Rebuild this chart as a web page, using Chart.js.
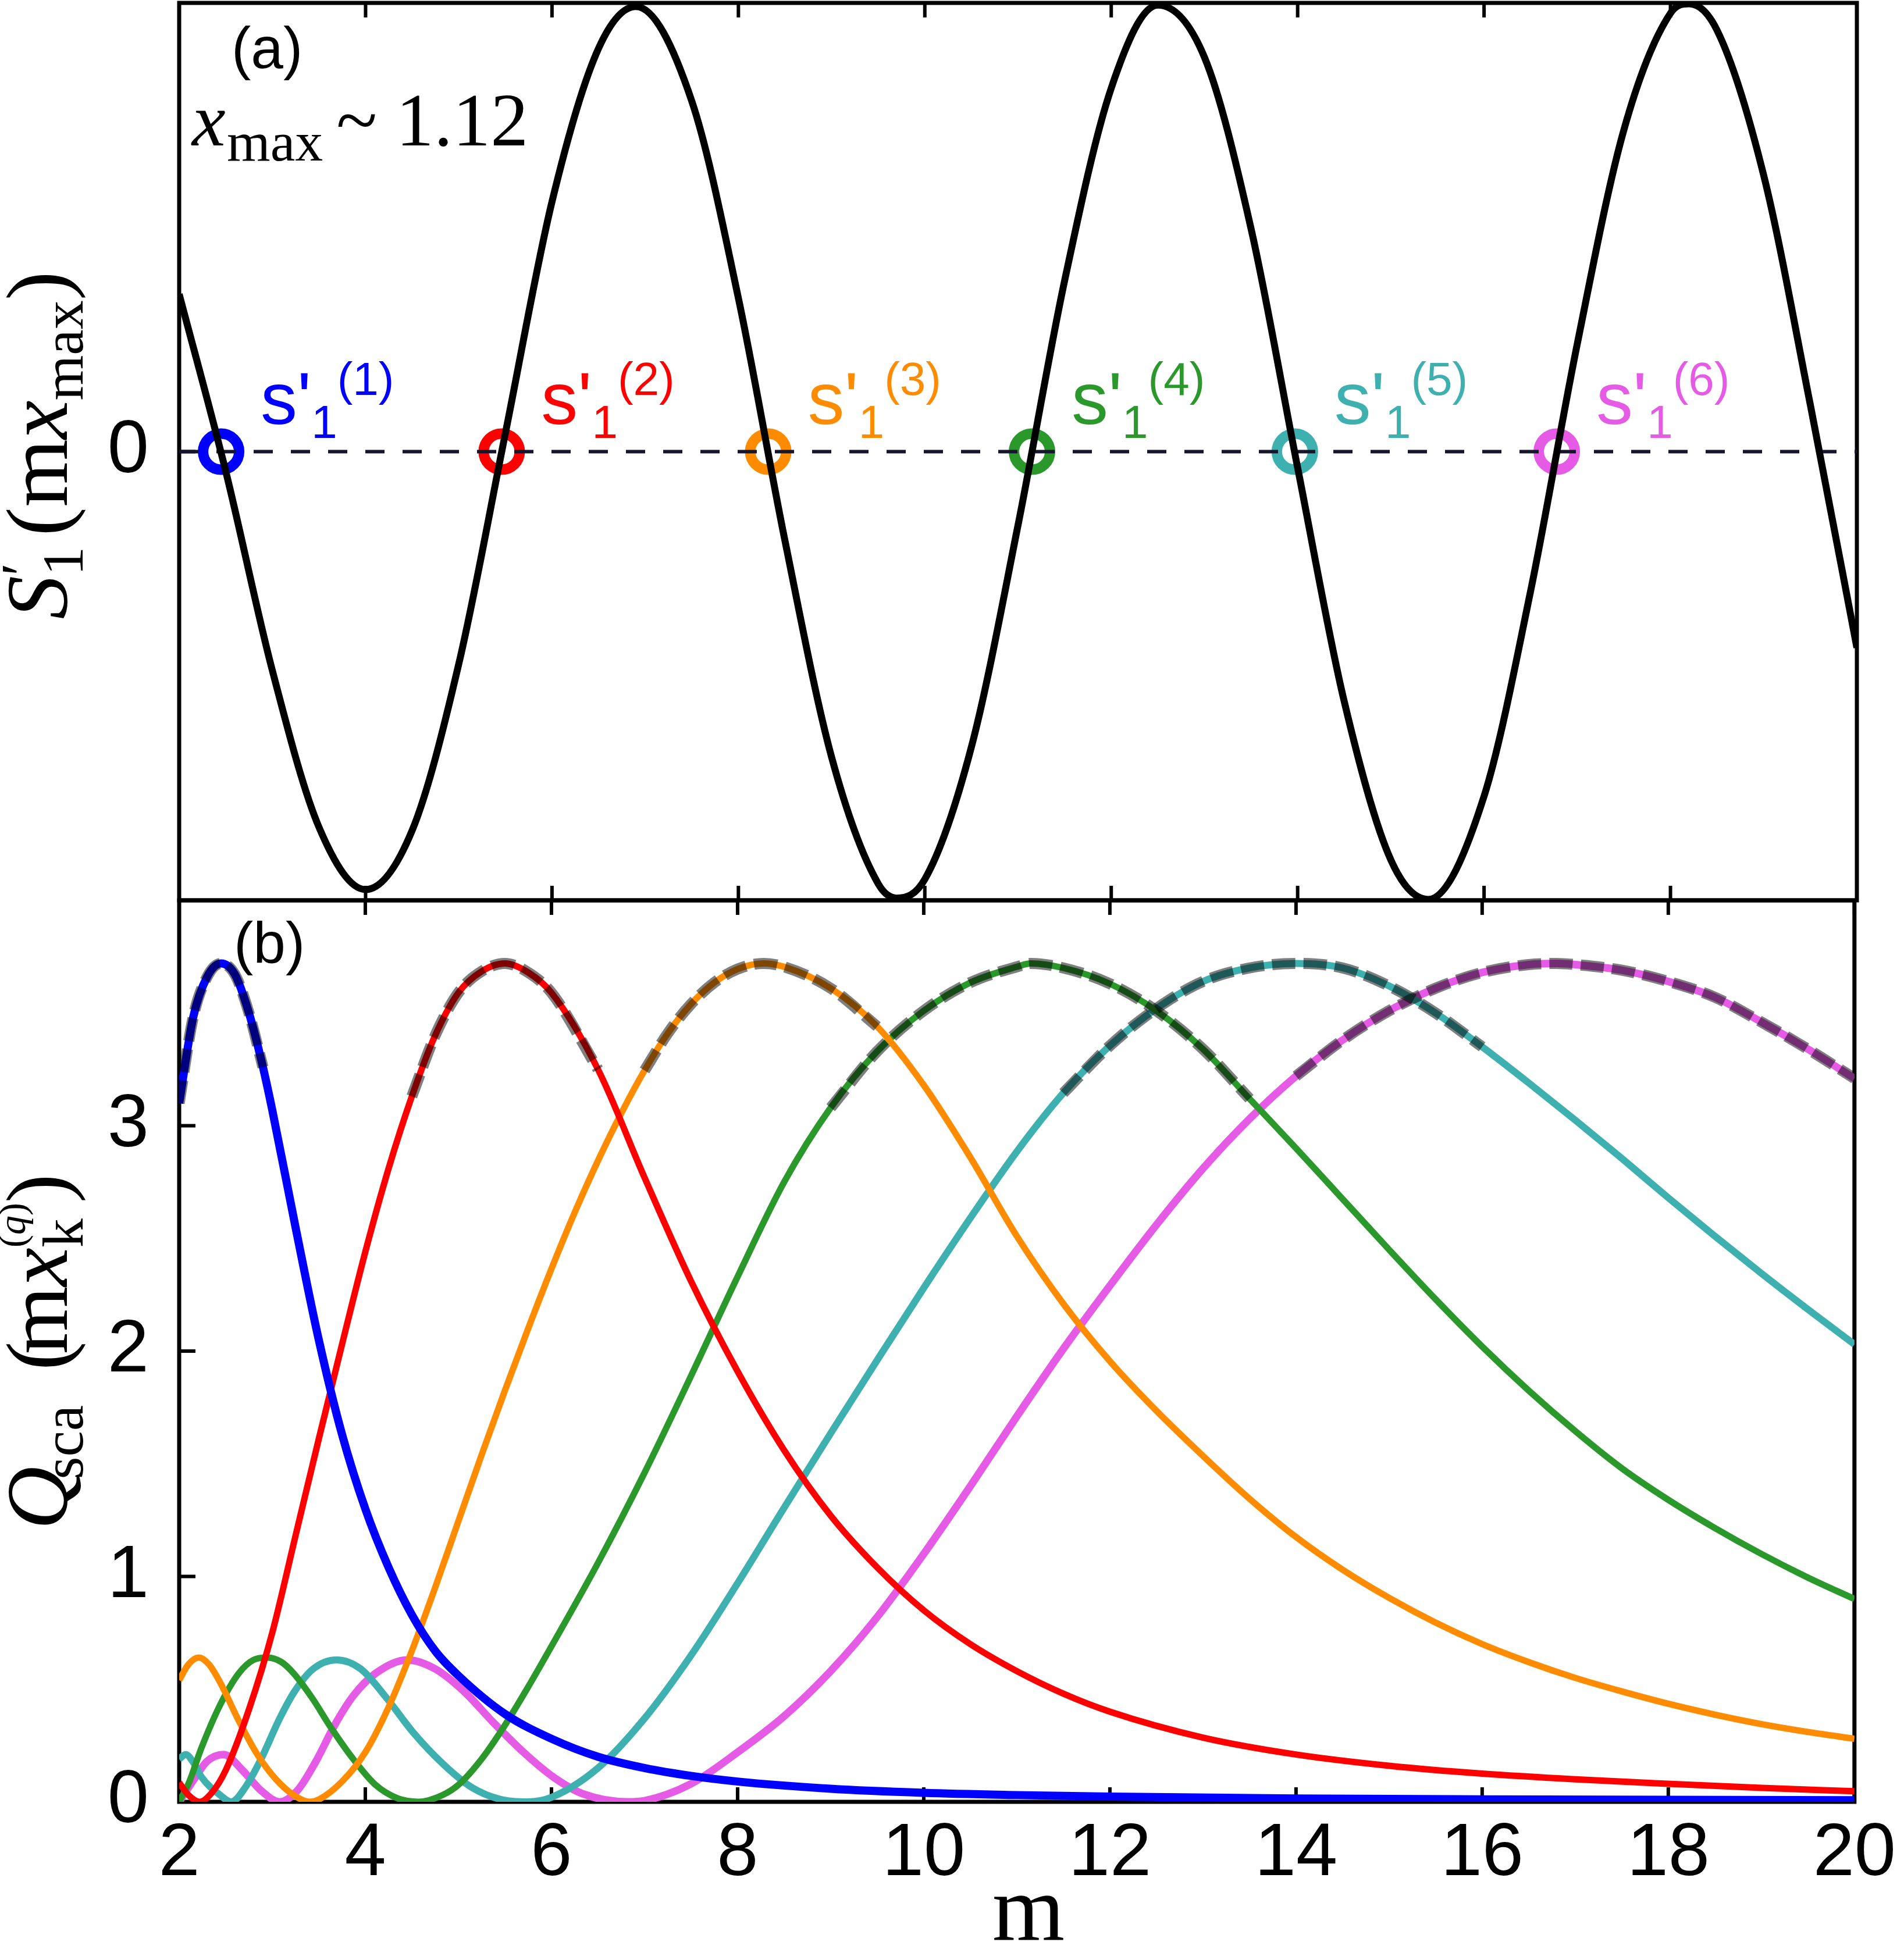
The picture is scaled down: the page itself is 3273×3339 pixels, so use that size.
<!DOCTYPE html>
<html>
<head>
<meta charset="utf-8">
<script src="https://cdn.jsdelivr.net/npm/chart.js@4.4.1/dist/chart.umd.min.js"></script>
<style>
  html, body { margin: 0; padding: 0; background: #fff; }
  #wrap { position: relative; width: 3273px; height: 3339px; }
  #wrap canvas { position: absolute; left: 0; top: 0; }
</style>
</head>
<body>
<div id="wrap">
  <canvas id="panelA" width="3273" height="3339"></canvas>
  <canvas id="panelB" width="3273" height="3339"></canvas>
</div>
<script>
// ---- panel (a): S'_1(m x_max) ----
const mA = [2.0, 2.5, 3.0, 3.5, 4.0, 4.5, 5.0, 5.5, 6.0, 6.5, 6.9, 7.5, 8.0, 8.5, 9.0, 9.5, 9.7, 10.0, 10.5, 11.0,
            11.5, 12.0, 12.5, 13.0, 13.5, 14.0, 14.5, 15.0, 15.4, 16.0, 16.5, 17.0, 17.5, 18.0, 18.2, 18.5, 19.0, 19.5, 20.0];
const s1A = [0.351, -0.044, -0.488, -0.837, -0.976, -0.844, -0.473, 0.041, 0.557, 0.899, 0.992, 0.781, 0.342, -0.199, -0.681, -0.963, -0.995, -0.953, -0.658, -0.164,
             0.381, 0.810, 0.995, 0.879, 0.497, -0.036, -0.557, -0.910, -0.998, -0.768, -0.310, 0.240, 0.717, 0.977, 0.998, 0.939, 0.616, 0.105, -0.437];
const zeroM = [2.45, 5.46, 8.32, 11.15, 13.97, 16.78];
const qNames = ['1', '2', '3', '4', '5', '6'];
const qColors = ['#0000ff', '#ff0000', '#ff8c00', '#2b982b', '#3fb0b0', '#e65be6'];

// ---- panel (b): Q_sca(m x_k^(q)) ----
const m1 = [2.0, 2.15, 2.3, 2.45, 2.6, 2.75, 2.9, 3.0, 3.25, 3.5, 3.75, 4.0, 4.25, 4.5, 4.75, 5.0, 5.5, 6.0, 6.5, 7.0,
            7.5, 8.0, 9.0, 10.0, 11.0, 12.0, 14.0, 16.0, 18.0, 20.0];
const q1 = [3.10, 3.48, 3.66, 3.72, 3.67, 3.50, 3.26, 3.07, 2.55, 2.05, 1.63, 1.30, 1.04, 0.83, 0.67, 0.56, 0.39, 0.28, 0.20, 0.15,
            0.115, 0.09, 0.058, 0.04, 0.03, 0.023, 0.015, 0.011, 0.009, 0.007];

const m2 = [2.0, 2.1, 2.22, 2.35, 2.5, 2.75, 3.0, 3.25, 3.5, 3.75, 4.0, 4.25, 4.5, 4.75, 5.0, 5.25, 5.5, 5.75, 6.0, 6.5,
            7.0, 7.5, 8.0, 8.5, 9.0, 9.5, 10.0, 10.5, 11.0, 11.5, 12.0, 13.0, 14.0, 15.0, 16.0, 17.0, 18.0, 19.0, 20.0];
const q2 = [0.085, 0.03, 0.0, 0.04, 0.14, 0.41, 0.75, 1.18, 1.61, 2.03, 2.44, 2.81, 3.13, 3.40, 3.59, 3.685, 3.72, 3.68, 3.59, 3.25,
            2.77, 2.31, 1.91, 1.56, 1.27, 1.04, 0.85, 0.70, 0.58, 0.48, 0.40, 0.285, 0.21, 0.16, 0.125, 0.10, 0.08, 0.062, 0.047];

const m3 = [2.0, 2.1, 2.21, 2.32, 2.44, 2.64, 2.84, 3.04, 3.23, 3.4, 3.5, 3.75, 4.0, 4.25, 4.5, 4.75, 5.0, 5.25, 5.5, 5.75,
            6.0, 6.25, 6.5, 6.75, 7.0, 7.25, 7.5, 7.75, 8.0, 8.28, 8.5, 9.0, 9.5, 10.0, 10.5, 11.0, 11.5, 12.0, 12.5, 13.0,
            13.5, 14.0, 14.5, 15.0, 15.5, 16.0, 16.5, 17.0, 17.5, 18.0, 18.5, 19.0, 19.5, 20.0];
const q3 = [0.54, 0.61, 0.64, 0.61, 0.53, 0.36, 0.21, 0.10, 0.03, 0.0, 0.01, 0.09, 0.22, 0.42, 0.67, 0.95, 1.245, 1.54, 1.825, 2.10,
            2.365, 2.615, 2.845, 3.055, 3.245, 3.41, 3.54, 3.635, 3.695, 3.72, 3.705, 3.61, 3.44, 3.18, 2.86, 2.51, 2.21, 1.955, 1.735, 1.535,
            1.345, 1.175, 1.03, 0.905, 0.795, 0.70, 0.62, 0.55, 0.49, 0.435, 0.387, 0.345, 0.31, 0.28];

const m4 = [2.0, 2.1, 2.24, 2.44, 2.64, 2.8, 2.95, 3.1, 3.23, 3.43, 3.63, 3.87, 4.11, 4.35, 4.57, 4.83, 5.0, 5.25, 5.5, 5.75,
            6.0, 6.5, 7.0, 7.5, 8.0, 8.5, 9.0, 9.5, 10.0, 10.5, 11.0, 11.15, 11.5, 12.0, 12.5, 13.0, 13.5, 14.0, 14.5, 15.0,
            15.5, 16.0, 16.5, 17.0, 17.5, 18.0, 18.5, 19.0, 19.5, 20.0];
const q4 = [0.0, 0.08, 0.24, 0.43, 0.57, 0.63, 0.64, 0.62, 0.57, 0.46, 0.33, 0.19, 0.075, 0.015, 0.0, 0.03, 0.075, 0.19, 0.34, 0.51,
            0.69, 1.06, 1.46, 1.89, 2.33, 2.75, 3.08, 3.33, 3.51, 3.635, 3.705, 3.72, 3.70, 3.63, 3.51, 3.34, 3.12, 2.90, 2.675, 2.45,
            2.23, 2.02, 1.825, 1.645, 1.48, 1.34, 1.215, 1.10, 0.995, 0.90];

const m5 = [2.0, 2.07, 2.16, 2.24, 2.44, 2.56, 2.72, 2.88, 3.08, 3.24, 3.44, 3.69, 3.95, 4.23, 4.51, 4.83, 5.14, 5.46, 5.74, 6.0,
            6.5, 7.0, 7.5, 8.0, 8.5, 9.0, 9.5, 10.0, 10.5, 11.0, 11.5, 12.0, 12.5, 13.0, 13.5, 14.0, 14.5, 15.0, 15.5, 16.0,
            16.5, 17.0, 17.5, 18.0, 18.5, 19.0, 19.5, 20.0];
const q5 = [0.19, 0.21, 0.17, 0.11, 0.03, 0.0, 0.07, 0.19, 0.37, 0.49, 0.59, 0.63, 0.59, 0.46, 0.31, 0.17, 0.065, 0.01, 0.0, 0.02,
            0.15, 0.37, 0.65, 0.97, 1.305, 1.635, 1.96, 2.28, 2.59, 2.885, 3.145, 3.355, 3.52, 3.64, 3.70, 3.72, 3.70, 3.62, 3.50, 3.35,
            3.19, 3.025, 2.855, 2.68, 2.51, 2.345, 2.185, 2.03];

const m6 = [2.0, 2.16, 2.3, 2.48, 2.68, 2.88, 3.08, 3.27, 3.47, 3.67, 3.87, 4.11, 4.45, 4.75, 5.06, 5.38, 5.7, 6.02, 6.34, 6.82,
            7.0, 7.5, 8.0, 8.5, 9.0, 9.5, 10.0, 10.5, 11.0, 11.5, 12.0, 12.5, 13.0, 13.5, 14.0, 14.5, 15.0, 15.5, 16.0, 16.5,
            16.8, 17.0, 17.5, 18.0, 18.5, 19.0, 19.5, 20.0];
const q6 = [0.0, 0.10, 0.18, 0.21, 0.14, 0.05, 0.0, 0.05, 0.18, 0.34, 0.47, 0.57, 0.63, 0.59, 0.49, 0.35, 0.22, 0.11, 0.035, 0.0,
            0.005, 0.08, 0.22, 0.38, 0.58, 0.82, 1.10, 1.40, 1.71, 2.01, 2.29, 2.56, 2.81, 3.03, 3.22, 3.38, 3.51, 3.61, 3.68, 3.715,
            3.72, 3.715, 3.69, 3.64, 3.57, 3.46, 3.34, 3.21];

// m-range where the dashed grey approximation is drawn over each curve
const dashWin = [[2.0, 2.95], [4.5, 6.6], [7.0, 9.6], [9.0, 13.5], [11.5, 16.4], [14.0, 20.0]];

const xTicks = [2, 4, 6, 8, 10, 12, 14, 16, 18, 20];
const yTicksA = [0];
const yTicksB = [0, 1, 2, 3];

const mSets = [m1, m2, m3, m4, m5, m6];
const qSets = [q1, q2, q3, q4, q5, q6];
const qWidths = [14, 11, 11, 11, 12, 13];

const pts = (xs, ys) => xs.map((x, i) => ({ x: x, y: ys[i] }));

const SERIF = '"Liberation Serif", "Times New Roman", serif';
const SANS = '"Liberation Sans", Arial, sans-serif';
Chart.defaults.font.family = SANS;
Chart.defaults.color = '#000';

// frame + inward ticks
const frame = {
  id: 'frame',
  beforeDatasetsDraw(chart, args, opts) {
    const { ctx, chartArea: a, scales } = chart;
    ctx.save();
    ctx.strokeStyle = '#000';
    ctx.lineWidth = 7;
    ctx.strokeRect(a.left, a.top, a.right - a.left, a.bottom - a.top);
    ctx.lineWidth = 6;
    ctx.beginPath();
    xTicks.forEach(v => {
      const px = scales.x.getPixelForValue(v);
      ctx.moveTo(px, a.top); ctx.lineTo(px, a.top + 25);
      ctx.moveTo(px, a.bottom); ctx.lineTo(px, a.bottom - 25);
    });
    (opts.yTicks || []).forEach(v => {
      const py = scales.y.getPixelForValue(v);
      ctx.moveTo(a.left, py); ctx.lineTo(a.left + 28, py);
    });
    ctx.stroke();
    ctx.restore();
  }
};

// draw a run of text pieces, centred on (cx, cy), optionally rotated
function drawRuns(ctx, runs, cx, cy, rotate) {
  let total = 0;
  runs.forEach(r => {
    ctx.font = r.font;
    r.w = r.adv === 0 ? 0 : ctx.measureText(r.t).width;
    total += r.w + (r.gap || 0);
  });
  ctx.save();
  ctx.translate(cx, cy);
  if (rotate) ctx.rotate(-Math.PI / 2);
  ctx.textAlign = 'left';
  ctx.textBaseline = 'alphabetic';
  let x = -total / 2;
  runs.forEach(r => {
    ctx.font = r.font;
    ctx.fillText(r.t, x + (r.dx || 0), r.dy || 0);
    x += r.w + (r.gap || 0);
  });
  ctx.restore();
}

const textA = {
  id: 'textA',
  afterDraw(chart) {
    const { ctx, chartArea: a, scales: { x, y } } = chart;
    ctx.save();
    ctx.fillStyle = '#000';
    ctx.textAlign = 'left';
    ctx.textBaseline = 'alphabetic';
    ctx.font = '100px ' + SANS;
    ctx.fillText('(a)', a.left + 90, a.top + 112);
    ctx.font = 'italic 130px ' + SERIF;
    ctx.fillText('x', a.left + 22, a.top + 245);
    ctx.font = '96px ' + SERIF;
    ctx.fillText('max', a.left + 82, a.top + 271);
    ctx.font = '130px ' + SERIF;
    ctx.fillText('~ 1.12', a.left + 270, a.top + 245);

    // s'_1^(q) labels next to the zero markers
    zeroM.forEach((m, i) => {
      const cx = x.getPixelForValue(m), cy = y.getPixelForValue(0);
      ctx.fillStyle = qColors[i];
      let tx = cx + 68;
      ctx.font = '126px ' + SANS;
      ctx.fillText("s'", tx, cy - 48);
      tx += ctx.measureText("s'").width;
      ctx.font = '80px ' + SANS;
      ctx.fillText('1', tx, cy - 24);
      tx += ctx.measureText('1').width;
      ctx.fillText('(' + qNames[i] + ')', tx, cy - 98);
    });

    ctx.fillStyle = '#000';
    drawRuns(ctx, [
      { t: 'S', font: 'italic 150px ' + SERIF },
      { t: '\u2032', font: '100px ' + SERIF, dy: -45, adv: 0 },
      { t: '1', font: '100px ' + SERIF, dy: 27, gap: 18 },
      { t: '(', font: '150px ' + SERIF },
      { t: 'm', font: '150px ' + SERIF },
      { t: 'x', font: 'italic 150px ' + SERIF },
      { t: 'max', font: '100px ' + SERIF, dy: 27 },
      { t: ')', font: '150px ' + SERIF }
    ], a.left - 193, (a.top + a.bottom) / 2 - 11, true);
    ctx.restore();
  }
};

const textB = {
  id: 'textB',
  afterDraw(chart) {
    const { ctx, chartArea: a } = chart;
    ctx.save();
    ctx.fillStyle = '#000';
    ctx.textAlign = 'left';
    ctx.textBaseline = 'alphabetic';
    ctx.font = '100px ' + SANS;
    ctx.fillText('(b)', a.left + 94, a.top + 108);

    drawRuns(ctx, [
      { t: 'Q', font: 'italic 150px ' + SERIF },
      { t: 'sca', font: '100px ' + SERIF, dy: 27, dx: -22, gap: 0 },
      { t: ' (', font: '150px ' + SERIF, gap: -22 },
      { t: 'm', font: '150px ' + SERIF },
      { t: 'x', font: 'italic 150px ' + SERIF },
      { t: 'k', font: '100px ' + SERIF, dy: 27, adv: 0 },
      { t: '(', font: '66px ' + SERIF, dy: -72 },
      { t: 'q', font: 'italic 66px ' + SERIF, dy: -72 },
      { t: ')', font: '66px ' + SERIF, dy: -72 },
      { t: ')', font: '150px ' + SERIF }
    ], a.left - 193, (a.top + a.bottom) / 2 + 1, true);

    ctx.textAlign = 'center';
    ctx.font = '160px ' + SERIF;
    ctx.fillText('m', 1768, 3335);
    ctx.restore();
  }
};

const tickFont = { family: SANS, size: 128 };

// ---- chart (a) ----
new Chart(document.getElementById('panelA'), {
  type: 'line',
  data: {
    datasets: [
      { data: pts(mA, s1A), borderColor: '#000', borderWidth: 12, pointRadius: 0,
        cubicInterpolationMode: 'monotone', order: 0 },
      { data: [{ x: 2, y: 0 }, { x: 20, y: 0 }], borderColor: '#15152b', borderWidth: 6,
        borderDash: [33, 31], pointRadius: 0, order: 1 },
      { data: zeroM.map(m => ({ x: m, y: 0 })), showLine: false, pointRadius: 31, borderWidth: 18,
        pointBorderWidth: 18, pointBorderColor: qColors, pointBackgroundColor: 'rgba(0,0,0,0)', order: 2 }
    ]
  },
  options: {
    responsive: false, animation: false, devicePixelRatio: 1,
    layout: { autoPadding: false, padding: { top: 5, right: 81, bottom: 3339 - 1548, left: 0 } },
    plugins: { legend: { display: false }, tooltip: { enabled: false }, frame: { yTicks: yTicksA } },
    scales: {
      x: { type: 'linear', min: 2, max: 20, display: false },
      y: {
        type: 'linear', min: -1, max: 1,
        afterFit(s) { s.width = 308; s.paddingTop = 0; s.paddingBottom = 0; },
        afterBuildTicks(s) { s.ticks = yTicksA.map(v => ({ value: v })); },
        grid: { display: false, drawTicks: false }, border: { display: false },
        ticks: { padding: 52, font: tickFont, color: '#000' }
      }
    }
  },
  plugins: [frame, textA]
});

// ---- chart (b) ----
const curveSets = mSets.map((ms, i) => ({
  data: pts(ms, qSets[i]), borderColor: qColors[i], borderWidth: qWidths[i],
  pointRadius: 0, cubicInterpolationMode: 'monotone', order: 0
}));
const dashSets = mSets.map((ms, i) => ({
  data: pts(ms, qSets[i]).filter(p => p.x >= dashWin[i][0] && p.x <= dashWin[i][1]),
  borderColor: 'rgba(0,0,0,0.5)', borderWidth: 19, borderDash: [40, 14],
  pointRadius: 0, cubicInterpolationMode: 'monotone', order: -1
}));

new Chart(document.getElementById('panelB'), {
  type: 'line',
  data: { datasets: curveSets.concat(dashSets) },
  options: {
    responsive: false, animation: false, devicePixelRatio: 1,
    layout: { autoPadding: false, padding: { top: 1548, right: 81, bottom: 0, left: 0 } },
    plugins: { legend: { display: false }, tooltip: { enabled: false }, frame: { yTicks: yTicksB } },
    scales: {
      x: {
        type: 'linear', min: 2, max: 20,
        afterFit(s) { s.height = 3339 - 3098; },
        afterBuildTicks(s) { s.ticks = xTicks.map(v => ({ value: v })); },
        grid: { display: false, drawTicks: false }, border: { display: false },
        ticks: { padding: 14, font: tickFont, color: '#000', maxRotation: 0, autoSkip: false }
      },
      y: {
        type: 'linear', min: 0, max: 4,
        afterFit(s) { s.width = 308; },
        afterBuildTicks(s) { s.ticks = yTicksB.map(v => ({ value: v })); },
        grid: { display: false, drawTicks: false }, border: { display: false },
        ticks: { padding: 52, font: tickFont, color: '#000' }
      }
    }
  },
  plugins: [frame, textB]
});
</script>
</body>
</html>
